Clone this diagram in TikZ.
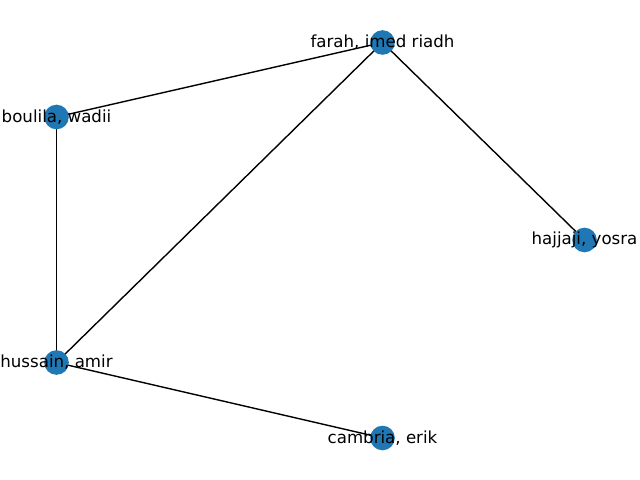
\documentclass[tikz,border=0pt]{standalone}
\usepackage{fontspec}
\setmainfont{DejaVu Sans}
\begin{document}
\begin{tikzpicture}[x=1bp,y=-1bp,
  vert/.style={circle,fill={rgb,255:red,31;green,119;blue,180},inner sep=0pt,minimum size=24.6bp},
  lab/.style={inner sep=0pt,font=\fontsize{16.7}{20}\selectfont},
  edge/.style={draw=black,line width=1.4bp}]
\useasboundingbox (0,0) rectangle (640,480);
\coordinate (F) at (382.5,42.5);
\coordinate (B) at (56.5,117);
\coordinate (Y) at (584.5,240);
\coordinate (H) at (56.5,362.5);
\coordinate (C) at (382.5,438);
\draw[edge] (F) -- (B);
\draw[edge] (F) -- (H);
\draw[edge] (F) -- (Y);
\draw[edge] (B) -- (H);
\draw[edge] (H) -- (C);
\node[vert] (f) at (F) {};
\node[vert] (b) at (B) {};
\node[vert] (y) at (Y) {};
\node[vert] (h) at (H) {};
\node[vert] (c) at (C) {};
\node[lab] (lf) at (F) {farah, imed riadh};
\node[lab] (lb) at (B) {boulila, wadii};
\node[lab] (ly) at (Y) {hajjaji, yosra};
\node[lab] (lh) at (H) {hussain, amir};
\node[lab] (lc) at (C) {cambria, erik};
\end{tikzpicture}
\end{document}
